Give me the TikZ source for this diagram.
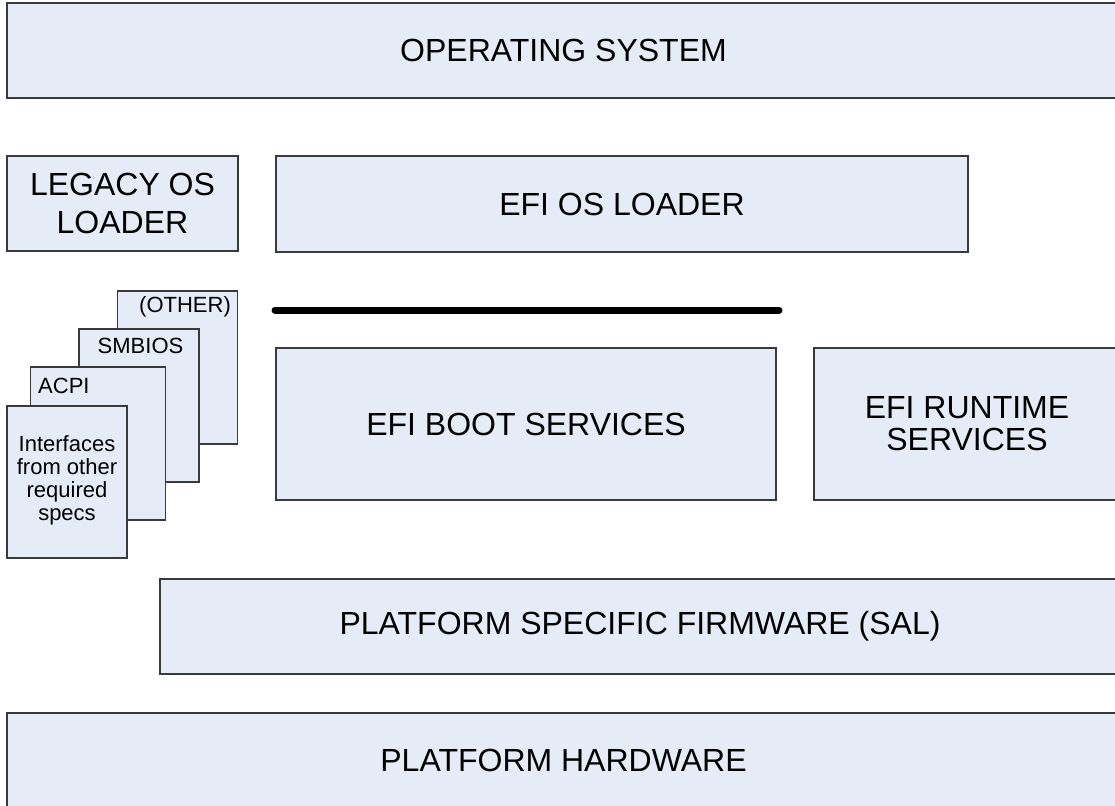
\documentclass[tikz,border=0pt]{standalone}
\usepackage{fontspec}
\setmainfont{Liberation Sans}
\usepackage{tikz}
\definecolor{layerfill}{HTML}{E6ECF7}
\definecolor{layerdraw}{HTML}{3A3A3A}

\begin{document}
\begin{tikzpicture}[x=1pt,y=-1pt,
	layer/.style={draw=layerdraw,fill=layerfill,line width=1.3pt,inner sep=0pt,align=center},
	big/.style={font=\fontsize{32}{36}\selectfont},
	small/.style={font=\fontsize{22}{23}\selectfont}]
\path[use as bounding box,clip] (0,0) rectangle (1115,805);
%	\foreach \y in {0,100,...,800}
%		\draw[lightgray] (0,\y)-- +(1115,0);

\node[layer,big,minimum width=1113pt,minimum height=95pt] (OS) at (563.5,50.5) {OPERATING SYSTEM};

\node[layer,font=\fontsize{32}{38}\selectfont,minimum width=231pt,minimum height=95pt] (Legacy) at (122.5,203.5) {LEGACY OS\\LOADER};
\node[layer,big,minimum width=692pt,minimum height=96pt] (Loader) at (622,204) {EFI OS LOADER};

% specs stack, back to front
\node[layer,minimum width=120pt,minimum height=153pt] (Other) at (177.5,367.5) {};
\node[layer,minimum width=120pt,minimum height=153pt] (Smbios) at (139,405.5) {};
\node[layer,minimum width=135pt,minimum height=153pt] (Acpi) at (98,443.5) {};
\node[layer,minimum width=120pt,minimum height=152pt] (Specs) at (67,482) {};

\node[small,anchor=base,inner sep=0pt] (OtherLbl) at (185,312) {(OTHER)};
\node[small,anchor=base,inner sep=0pt] (SmbiosLbl) at (140.5,353) {SMBIOS};
\node[small,anchor=base west,inner sep=0pt] (AcpiLbl) at (38,393) {ACPI};
\node[small,align=center,inner sep=0pt] (SpecsLbl) at (67,480.5) {Interfaces\\from other\\required\\specs};

\node[layer,big,minimum width=500pt,minimum height=152pt] (Boot) at (526,424) {EFI BOOT SERVICES};
\node[layer,font=\fontsize{32}{32}\selectfont,minimum width=306pt,minimum height=152pt] (Runtime) at (967,424) {EFI RUNTIME\\SERVICES};

\coordinate (BarL) at (275,310);
\coordinate (BarR) at (779,310);
\draw[line width=7pt,line cap=round] (BarL) -- (BarR);

\node[layer,big,minimum width=960pt,minimum height=95pt] (Sal) at (640,626.5) {PLATFORM SPECIFIC FIRMWARE (SAL)};
\node[layer,big,minimum width=1113pt,minimum height=95pt] (HW) at (563.5,760.5) {PLATFORM HARDWARE};
\end{tikzpicture}
\end{document}
